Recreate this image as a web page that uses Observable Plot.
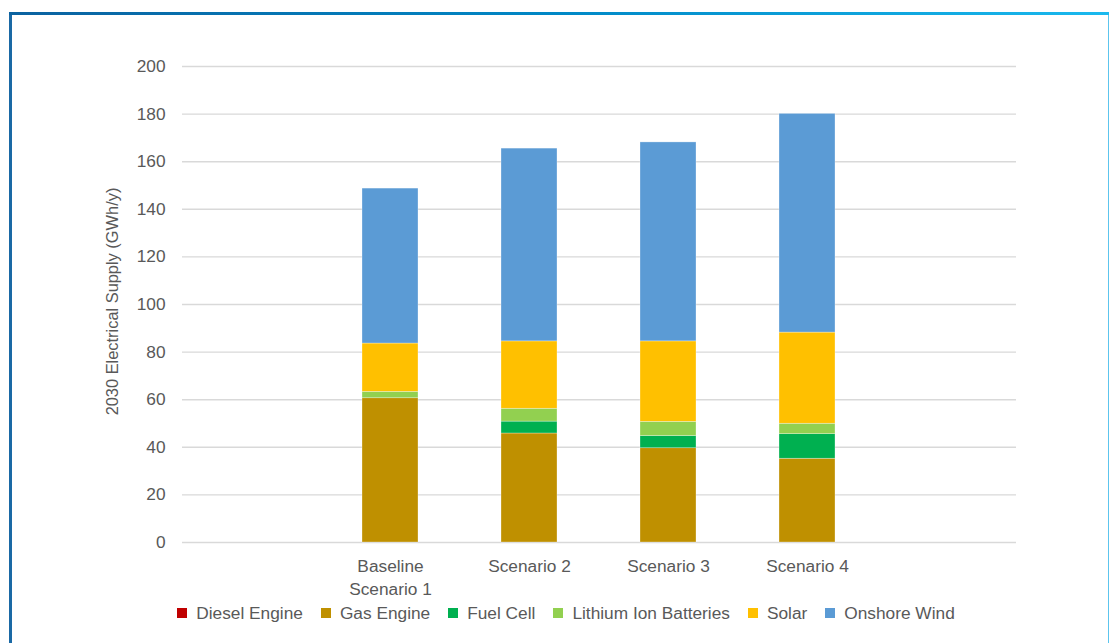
<!DOCTYPE html>
<html>
<head>
<meta charset="utf-8">
<script src="https://cdn.jsdelivr.net/npm/d3@7"></script>
<script src="https://cdn.jsdelivr.net/npm/@observablehq/plot@0.6"></script>
<style>
  html, body { margin: 0; padding: 0; background: #fff; }
  body { width: 1110px; height: 643px; position: relative; overflow: hidden;
         font-family: "Liberation Sans", Arial, sans-serif; }
  #frame { position: absolute; left: 9px; top: 12px; width: 1096px; height: 700px;
           border-left: 3px solid #1a69a5; border-right: 1px solid #5cc5ee; }
  #frame-top { position: absolute; left: 9px; top: 12px; width: 1100px; height: 3px;
               background: linear-gradient(to right, #0b62a0, #0088c6 50%, #1ab9ee); }
  #chart { position: absolute; left: 0; top: 0; }
  #legend { position: absolute; left: 0; width: 1132px; top: 603px; display: flex;
            justify-content: center; gap: 18px; font-size: 17.3px; color: #595959; }
  #legend .item { display: flex; align-items: center; gap: 9px; line-height: 20px; }
  #legend .sw { width: 10px; height: 10px; display: inline-block; }
</style>
</head>
<body>
<div id="frame"></div>
<div id="frame-top"></div>
<div id="chart"></div>
<div id="legend"></div>
<script>
// Scenario categories (empty slots pad the axis on each side)
const scenarios = ["Baseline\nScenario 1", "Scenario 2", "Scenario 3", "Scenario 4"];
const xDomain = ["", ...scenarios, " "];

// Supply sources, bottom to top of each stack
const sources = ["Diesel Engine", "Gas Engine", "Fuel Cell", "Lithium Ion Batteries", "Solar", "Onshore Wind"];
const sourceColors = ["#C00000", "#BF9000", "#00B050", "#92D050", "#FFC000", "#5B9BD5"];

// 2030 electrical supply per source, GWh/y
const diesel    = [0, 0, 0, 0];
const gasEngine = [60.6, 45.8, 39.6, 35.2];
const fuelCell  = [0, 5.0, 5.1, 10.3];
const batteries = [2.7, 5.4, 6.0, 4.4];
const solar     = [20.3, 28.3, 33.8, 38.3];
const wind      = [65.1, 81.0, 83.6, 91.9];

const yTicks = [0, 20, 40, 60, 80, 100, 120, 140, 160, 180, 200];
const yLabel = "2030 Electrical Supply (GWh/y)";

const series = [diesel, gasEngine, fuelCell, batteries, solar, wind];
const rows = [];
sources.forEach((src, s) => {
  scenarios.forEach((sc, i) => rows.push({scenario: sc, source: src, value: series[s][i]}));
});

const textColor = "#595959";
const font = "17.3px";

const chart = Plot.plot({
  width: 1110,
  height: 600,
  marginLeft: 182,
  marginRight: 94,
  marginTop: 66,
  marginBottom: 58,
  style: {fontFamily: "'Liberation Sans', Arial, sans-serif", fontSize: font, color: textColor, background: "transparent"},
  x: {domain: xDomain, paddingInner: 0.595, paddingOuter: 0.2975},
  y: {domain: [0, 200]},
  color: {domain: sources, range: sourceColors},
  marks: [
    Plot.gridY(yTicks, {stroke: "#d9d9d9", strokeOpacity: 1, strokeWidth: 1.4}),
    Plot.barY(rows, {
      x: "scenario", y: "value", fill: "source",
      stroke: "white", strokeWidth: 0.6, strokeOpacity: 0.5
    }),
    Plot.axisY(yTicks, {tickSize: 0, tickPadding: 17, label: null, fill: textColor, fontSize: font}),
    Plot.axisX({tickSize: 0, tickPadding: 14, label: null, fill: textColor, fontSize: font, lineHeight: 1.29}),
    Plot.text([yLabel], {
      frameAnchor: "left", dx: -70, dy: -3, rotate: -90, text: d => d,
      fill: textColor, fontSize: "16.4px", textAnchor: "middle", lineAnchor: "middle"
    })
  ]
});
document.getElementById("chart").append(chart);

// Legend built from the same source/colour arrays
const legend = document.getElementById("legend");
sources.forEach((src, i) => {
  const item = document.createElement("span");
  item.className = "item";
  const sw = document.createElement("span");
  sw.className = "sw";
  sw.style.background = sourceColors[i];
  const label = document.createElement("span");
  label.textContent = src;
  item.append(sw, label);
  legend.append(item);
});
</script>
</body>
</html>
